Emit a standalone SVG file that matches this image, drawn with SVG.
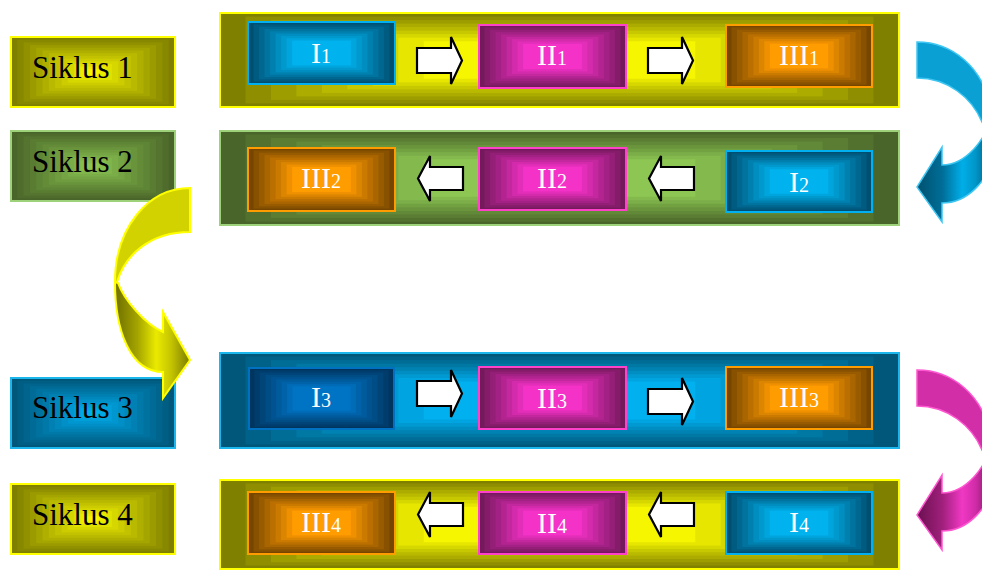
<svg xmlns="http://www.w3.org/2000/svg" xmlns:xlink="http://www.w3.org/1999/xlink" width="982" height="570" viewBox="0 0 982 570">
  <style>
    .lbl { font-family: "Liberation Serif", "Times New Roman", serif; font-size: 31px; fill: #000; }
    .cap { font-family: "Liberation Serif", "Times New Roman", serif; font-size: 30px; fill: #fff; text-anchor: middle; }
    .sub { font-size: 20px; }
    .bd { fill: none; stroke-width: 2; }
    /* box-gradient colour pairs: fill = edge colour, color = centre colour */
    .g-yel { fill: #7f7f00; color: #f6f600; }
    .g-grn { fill: #4a652a; color: #8dc653; }
    .g-cyn { fill: #00577a; color: #00b0ef; }
    .g-blu { fill: #004f70; color: #00b2ee; }
    .g-dbl { fill: #00355f; color: #0074c4; }
    .g-mag { fill: #741a5c; color: #f432c8; }
    .g-org { fill: #764600; color: #ff9c00; }
    .s-yel { stroke: #ffff00; }
    .s-grn { stroke: #9dd27a; }
    .s-cyn { stroke: #1ab6ec; }
    .s-blu { stroke: #00b0f0; }
    .s-dbl { stroke: #0070c0; }
    .s-mag { stroke: #ff40c8; }
    .s-org { stroke: #ff9c00; }
    .step { fill: #fff; stroke: #000; stroke-width: 2.2; stroke-linejoin: miter; }
  </style>
  <defs>
    <!-- rectangular "from centre" gradient built from nested rectangles (small bright core) -->
    <symbol id="boxgrad" viewBox="0 0 100 100" preserveAspectRatio="none">
      <rect width="100" height="100"/>
      <g fill="currentColor">
        <rect x="3.85" y="3.85" width="92.3" height="92.3" fill-opacity="0.0833"/>
        <rect x="7.69" y="7.69" width="84.62" height="84.62" fill-opacity="0.0909"/>
        <rect x="11.54" y="11.54" width="76.92" height="76.92" fill-opacity="0.1"/>
        <rect x="15.38" y="15.38" width="69.24" height="69.24" fill-opacity="0.1111"/>
        <rect x="19.23" y="19.23" width="61.54" height="61.54" fill-opacity="0.125"/>
        <rect x="23.08" y="23.08" width="53.84" height="53.84" fill-opacity="0.1429"/>
        <rect x="26.92" y="26.92" width="46.16" height="46.16" fill-opacity="0.1667"/>
        <rect x="30.77" y="30.77" width="38.46" height="38.46" fill-opacity="0.2"/>
        <rect x="34.62" y="34.62" width="30.76" height="30.76" fill-opacity="0.25"/>
        <rect x="38.46" y="38.46" width="23.08" height="23.08" fill-opacity="0.3333"/>
        <rect x="42.31" y="42.31" width="15.38" height="15.38" fill-opacity="0.5"/>
        <rect x="46.15" y="46.15" width="7.7" height="7.7" fill-opacity="1"/>
      </g>
    </symbol>
    <!-- same gradient with a wide flat core -->
    <symbol id="boxgrad-wide" viewBox="0 0 100 100" preserveAspectRatio="none">
      <rect width="100" height="100"/>
      <g fill="currentColor">
        <rect x="3.75" y="3.75" width="92.5" height="92.5" fill-opacity="0.125"/>
        <rect x="7.5" y="7.5" width="85" height="85" fill-opacity="0.1429"/>
        <rect x="11.25" y="11.25" width="77.5" height="77.5" fill-opacity="0.1667"/>
        <rect x="15" y="15" width="70" height="70" fill-opacity="0.2"/>
        <rect x="18.75" y="18.75" width="62.5" height="62.5" fill-opacity="0.25"/>
        <rect x="22.5" y="22.5" width="55" height="55" fill-opacity="0.3333"/>
        <rect x="26.25" y="26.25" width="47.5" height="47.5" fill-opacity="0.5"/>
        <rect x="30" y="30" width="40" height="40" fill-opacity="1"/>
      </g>
    </symbol>
    <!-- block arrows between steps -->
    <path id="arr-r" class="step" d="M0,11 H34 V0 L45,23.5 L34,47 V36 H0 Z"/>
    <path id="arr-l" class="step" d="M45,11 H12 V0 L0,22.5 L12,45 V34 H45 Z"/>
    <!-- shading of the front part of the curved arrows -->
    <linearGradient id="fr-blu" gradientUnits="userSpaceOnUse" x1="917" y1="0" x2="990" y2="0">
      <stop offset="0" stop-color="#00506e"/>
      <stop offset="0.35" stop-color="#006e98"/>
      <stop offset="0.62" stop-color="#00aee8"/>
      <stop offset="0.8" stop-color="#0096c8"/>
      <stop offset="1" stop-color="#005a80"/>
    </linearGradient>
    <linearGradient id="fr-mag" gradientUnits="userSpaceOnUse" x1="917" y1="0" x2="990" y2="0">
      <stop offset="0" stop-color="#6a1050"/>
      <stop offset="0.35" stop-color="#a0207c"/>
      <stop offset="0.62" stop-color="#f038c4"/>
      <stop offset="0.8" stop-color="#d02ca8"/>
      <stop offset="1" stop-color="#801a64"/>
    </linearGradient>
    <linearGradient id="fr-yel" gradientUnits="userSpaceOnUse" x1="115" y1="0" x2="190" y2="0">
      <stop offset="0" stop-color="#6e6e00"/>
      <stop offset="0.3" stop-color="#a4a400"/>
      <stop offset="0.55" stop-color="#eaea00"/>
      <stop offset="0.75" stop-color="#c4c400"/>
      <stop offset="1" stop-color="#7a7a00"/>
    </linearGradient>
  </defs>

  <!-- cycle labels -->
  <g id="siklus-1">
    <use href="#boxgrad" class="g-yel" x="11" y="37" width="164" height="70"/>
    <rect class="bd s-yel" x="11" y="37" width="164" height="70"/>
    <text class="lbl" x="32" y="78">Siklus 1</text>
  </g>
  <g id="siklus-2">
    <use href="#boxgrad" class="g-grn" x="11" y="131" width="164" height="70"/>
    <rect class="bd s-grn" x="11" y="131" width="164" height="70"/>
    <text class="lbl" x="32" y="172">Siklus 2</text>
  </g>
  <g id="siklus-3">
    <use href="#boxgrad" class="g-cyn" x="11" y="378" width="164" height="70"/>
    <rect class="bd s-cyn" x="11" y="378" width="164" height="70"/>
    <text class="lbl" x="32" y="418">Siklus 3</text>
  </g>
  <g id="siklus-4">
    <use href="#boxgrad" class="g-yel" x="11" y="484" width="164" height="70"/>
    <rect class="bd s-yel" x="11" y="484" width="164" height="70"/>
    <text class="lbl" x="32" y="525">Siklus 4</text>
  </g>

  <!-- cycle bands -->
  <g id="band-1">
    <use href="#boxgrad-wide" class="g-yel" x="220" y="13" width="679" height="94"/>
    <rect class="bd s-yel" x="220" y="13" width="679" height="94"/>
  </g>
  <g id="band-2">
    <use href="#boxgrad-wide" class="g-grn" x="220" y="131" width="679" height="94"/>
    <rect class="bd s-grn" x="220" y="131" width="679" height="94"/>
  </g>
  <g id="band-3">
    <use href="#boxgrad-wide" class="g-cyn" x="220" y="353" width="679" height="95"/>
    <rect class="bd s-cyn" x="220" y="353" width="679" height="95"/>
  </g>
  <g id="band-4">
    <use href="#boxgrad-wide" class="g-yel" x="220" y="480" width="679" height="89"/>
    <rect class="bd s-yel" x="220" y="480" width="679" height="89"/>
  </g>

  <!-- cycle 1 steps -->
  <g id="step-I1">
    <use href="#boxgrad-wide" class="g-blu" x="248" y="22" width="147" height="62"/>
    <rect class="bd s-blu" x="248" y="22" width="147" height="62"/>
    <text class="cap" x="321" y="63">I<tspan class="sub">1</tspan></text>
  </g>
  <g id="step-II1">
    <use href="#boxgrad-wide" class="g-mag" x="479" y="25" width="147" height="63"/>
    <rect class="bd s-mag" x="479" y="25" width="147" height="63"/>
    <text class="cap" x="552" y="65">II<tspan class="sub">1</tspan></text>
  </g>
  <g id="step-III1">
    <use href="#boxgrad-wide" class="g-org" x="726" y="25" width="146" height="62"/>
    <rect class="bd s-org" x="726" y="25" width="146" height="62"/>
    <text class="cap" x="799" y="65">III<tspan class="sub">1</tspan></text>
  </g>

  <!-- cycle 2 steps -->
  <g id="step-III2">
    <use href="#boxgrad-wide" class="g-org" x="248" y="148" width="147" height="63"/>
    <rect class="bd s-org" x="248" y="148" width="147" height="63"/>
    <text class="cap" x="321" y="188">III<tspan class="sub">2</tspan></text>
  </g>
  <g id="step-II2">
    <use href="#boxgrad-wide" class="g-mag" x="479" y="148" width="147" height="62"/>
    <rect class="bd s-mag" x="479" y="148" width="147" height="62"/>
    <text class="cap" x="552" y="188">II<tspan class="sub">2</tspan></text>
  </g>
  <g id="step-I2">
    <use href="#boxgrad-wide" class="g-blu" x="726" y="151" width="146" height="61"/>
    <rect class="bd s-blu" x="726" y="151" width="146" height="61"/>
    <text class="cap" x="799" y="192">I<tspan class="sub">2</tspan></text>
  </g>

  <!-- cycle 3 steps -->
  <g id="step-I3">
    <use href="#boxgrad-wide" class="g-dbl" x="249" y="368" width="145" height="61"/>
    <rect class="bd s-dbl" x="249" y="368" width="145" height="61"/>
    <text class="cap" x="321" y="407">I<tspan class="sub">3</tspan></text>
  </g>
  <g id="step-II3">
    <use href="#boxgrad-wide" class="g-mag" x="479" y="367" width="147" height="62"/>
    <rect class="bd s-mag" x="479" y="367" width="147" height="62"/>
    <text class="cap" x="552" y="408">II<tspan class="sub">3</tspan></text>
  </g>
  <g id="step-III3">
    <use href="#boxgrad-wide" class="g-org" x="726" y="367" width="146" height="62"/>
    <rect class="bd s-org" x="726" y="367" width="146" height="62"/>
    <text class="cap" x="799" y="407">III<tspan class="sub">3</tspan></text>
  </g>

  <!-- cycle 4 steps -->
  <g id="step-III4">
    <use href="#boxgrad-wide" class="g-org" x="248" y="492" width="147" height="62"/>
    <rect class="bd s-org" x="248" y="492" width="147" height="62"/>
    <text class="cap" x="321" y="532">III<tspan class="sub">4</tspan></text>
  </g>
  <g id="step-II4">
    <use href="#boxgrad-wide" class="g-mag" x="479" y="492" width="147" height="62"/>
    <rect class="bd s-mag" x="479" y="492" width="147" height="62"/>
    <text class="cap" x="552" y="533">II<tspan class="sub">4</tspan></text>
  </g>
  <g id="step-I4">
    <use href="#boxgrad-wide" class="g-blu" x="726" y="492" width="146" height="62"/>
    <rect class="bd s-blu" x="726" y="492" width="146" height="62"/>
    <text class="cap" x="799" y="532">I<tspan class="sub">4</tspan></text>
  </g>

  <g id="connectors">
    <!-- step arrows -->
    <use href="#arr-r" x="417" y="37"/>
    <use href="#arr-r" x="648" y="37"/>
    <use href="#arr-l" x="418" y="156"/>
    <use href="#arr-l" x="649" y="156"/>
    <use href="#arr-r" x="417" y="370"/>
    <use href="#arr-r" x="648" y="378"/>
    <use href="#arr-l" x="418" y="492"/>
    <use href="#arr-l" x="649" y="492"/>

    <!-- cycle 1 to cycle 2 -->
    <g id="turn-1-2">
      <path d="M917,42 C950,42 985,65 992,115 L982,122 C972,98 948,78 917,78 Z" fill="#0aa0d4" stroke="#3ec6f2" stroke-width="1.5"/>
      <path d="M992,110 C988,140 965,165 942,165 L942,147 L917,187 L942,222 L942,203 C965,203 990,185 998,140 Z" fill="url(#fr-blu)" stroke="#3ec6f2" stroke-width="1.5"/>
    </g>
    <!-- cycle 2 to cycle 3 -->
    <g id="turn-2-3">
      <path d="M190,188 C148,188 115,228 115,282 L117,282 C125,255 150,232 190,232 Z" fill="#d2d200" stroke="#ffff00" stroke-width="2"/>
      <path d="M115,282 C115,330 130,372 163,372 L163,398 L190,360 L163,312 L163,332 C145,324 124,300 118,283 Z" fill="url(#fr-yel)" stroke="#ffff00" stroke-width="2"/>
    </g>
    <!-- cycle 3 to cycle 4 -->
    <g id="turn-3-4" transform="translate(0,328)">
      <path d="M917,42 C950,42 985,65 992,115 L982,122 C972,98 948,78 917,78 Z" fill="#d22ea8" stroke="#ff55d0" stroke-width="1.5"/>
      <path d="M992,110 C988,140 965,165 942,165 L942,147 L917,187 L942,222 L942,203 C965,203 990,185 998,140 Z" fill="url(#fr-mag)" stroke="#ff55d0" stroke-width="1.5"/>
    </g>
  </g>
</svg>
